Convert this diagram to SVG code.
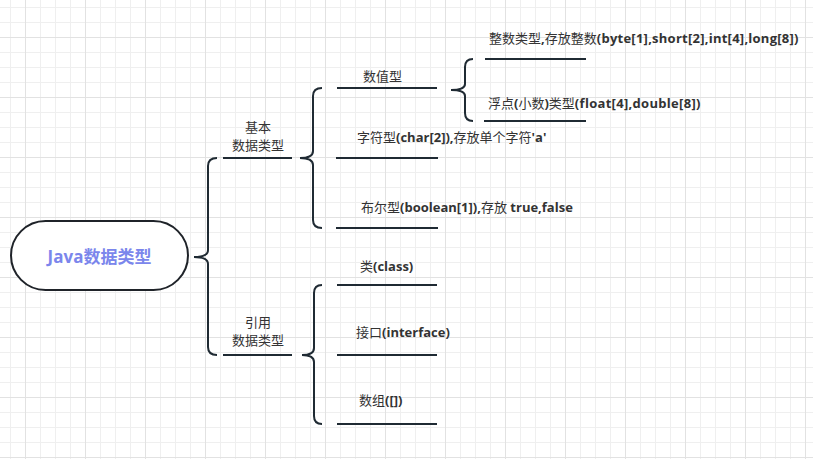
<svg xmlns="http://www.w3.org/2000/svg" width="813" height="459" viewBox="0 0 813 459">
<defs>
<pattern id="grid" patternUnits="userSpaceOnUse" x="10" y="7" width="60" height="60">
<rect x="0" y="0" width="60" height="60" fill="#ffffff"/>
<rect x="0" y="0" width="1" height="60" fill="#efefef"/>
<rect x="30" y="0" width="1" height="60" fill="#efefef"/>
<rect x="45" y="0" width="1" height="60" fill="#efefef"/>
<rect x="0" y="0" width="60" height="1" fill="#efefef"/>
<rect x="0" y="15" width="60" height="1" fill="#efefef"/>
<rect x="0" y="45" width="60" height="1" fill="#efefef"/>
<rect x="15" y="0" width="1" height="60" fill="#e2e2e2"/>
<rect x="0" y="30" width="60" height="1" fill="#e2e2e2"/>
</pattern>
<style>
.ln{stroke:#1f2a33;stroke-width:2;fill:none;stroke-linecap:butt}
.br{stroke:#1f2a33;stroke-width:2;fill:none}
.t{font-family:"Open Sans","Noto Sans CJK SC",sans-serif;font-size:13px;fill:#333333;dominant-baseline:central}
.b{font-weight:bold}
.root{font-family:"Open Sans","Noto Sans CJK SC",sans-serif;font-size:17px;font-weight:bold;fill:#7b86ec;dominant-baseline:central}
</style>
</defs>
<rect x="0" y="0" width="813" height="459" fill="url(#grid)"/>

<g id="connectors">
<path class="br" d="M217 158 Q208 158 208 166 L208 250 Q208 257 194 257 Q208 257 208 264 L208 347 Q208 355 217 355"/>
<path class="br" d="M322 88 Q313 88 313 96 L313 151 Q313 158 300 158 Q313 158 313 165 L313 220 Q313 228 322 228"/>
<path class="br" d="M473 59 Q465 59 465 67 L465 84 Q465 90 451 90 Q465 90 465 96 L465 113 Q465 121 473 121"/>
<path class="br" d="M322 285 Q314 285 314 293 L314 348 Q314 355 302 355 Q314 355 314 362 L314 416 Q314 424 322 424"/>
</g>

<g id="root">
<rect x="11" y="221" width="177" height="69" rx="34.5" ry="34.5" fill="#ffffff" stroke="#1f2329" stroke-width="2"/>
<text class="root" x="99.5" y="256" text-anchor="middle">Java数据类型</text>
</g>

<g id="basic">
<line class="ln" x1="223" y1="158" x2="292" y2="158"/>
<text class="t" x="258" y="127" text-anchor="middle">基本</text>
<text class="t" x="258" y="145" text-anchor="middle">数据类型</text>
</g>

<g id="reference">
<line class="ln" x1="223" y1="355" x2="292" y2="355"/>
<text class="t" x="258" y="322" text-anchor="middle">引用</text>
<text class="t" x="258" y="340" text-anchor="middle">数据类型</text>
</g>

<g id="numeric">
<line class="ln" x1="337" y1="88" x2="437" y2="88"/>
<text class="t" x="363" y="76">数值型</text>
</g>

<g id="char">
<line class="ln" x1="336" y1="158" x2="438" y2="158"/>
<text class="t" x="357" y="137">字符型<tspan class="b">(char[2]),</tspan>存放单个字符<tspan class="b">'a'</tspan></text>
</g>

<g id="boolean">
<line class="ln" x1="336" y1="228" x2="438" y2="228"/>
<text class="t" x="361" y="207">布尔型<tspan class="b">(boolean[1]),</tspan>存放 <tspan class="b">true,false</tspan></text>
</g>

<g id="integer">
<line class="ln" x1="485" y1="59" x2="586" y2="59"/>
<text class="t" x="489" y="38">整数类型<tspan class="b">,</tspan>存放整数<tspan class="b" letter-spacing="0.25">(byte[1],short[2],int[4],long[8])</tspan></text>
</g>

<g id="float">
<line class="ln" x1="484" y1="121" x2="586" y2="121"/>
<text class="t" x="488" y="103">浮点<tspan class="b">(</tspan>小数<tspan class="b">)</tspan>类型<tspan class="b" letter-spacing="0.3">(float[4],double[8])</tspan></text>
</g>

<g id="class">
<line class="ln" x1="337" y1="285" x2="437" y2="285"/>
<text class="t" x="360" y="266">类<tspan class="b">(class)</tspan></text>
</g>

<g id="interface">
<line class="ln" x1="337" y1="355" x2="437" y2="355"/>
<text class="t" x="356" y="332">接口<tspan class="b">(interface)</tspan></text>
</g>

<g id="array">
<line class="ln" x1="337" y1="424" x2="437" y2="424"/>
<text class="t" x="359" y="400">数组<tspan class="b">([])</tspan></text>
</g>
</svg>
